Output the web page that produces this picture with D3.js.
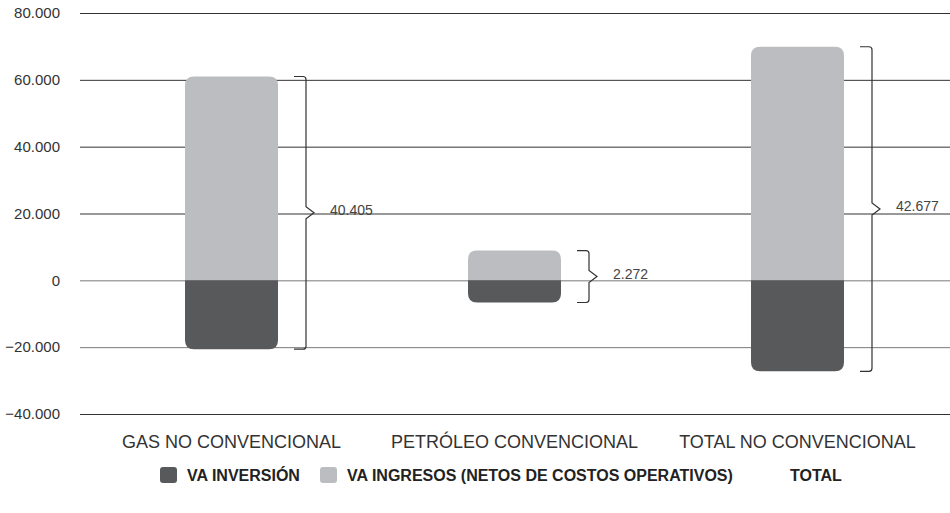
<!DOCTYPE html>
<html>
<head>
<meta charset="utf-8">
<script src="https://cdn.jsdelivr.net/npm/d3@7"></script>
<style>
  body { margin: 0; background: #fff; }
  svg { display: block; font-family: "Liberation Sans", Arial, sans-serif; }
  .tick text { font-size: 15px; fill: #333; }
  .catText { font-size: 18px; fill: #333; }
  .netText { font-size: 14px; fill: #444; }
  .legText { font-size: 16px; font-weight: bold; fill: #222; font-family: "Liberation Sans Narrow", "Liberation Sans", Arial, sans-serif; }
</style>
</head>
<body>
<div id="chart"></div>
<script>
let svgWidth = 950;
let svgHeight = 513;

// data
let categories = ["GAS NO CONVENCIONAL", "PETRÓLEO CONVENCIONAL", "TOTAL NO CONVENCIONAL"];
let inversion = [-20595, -6628, -27223];
let ingresos = [61000, 8900, 69900];
let totals = [40405, 2272, 42677];
let yTicks = [-40000, -20000, 0, 20000, 40000, 60000, 80000];
let legendLabels = ["VA INVERSIÓN", "VA INGRESOS (NETOS DE COSTOS OPERATIVOS)", "TOTAL"];

let colorDark = "#58595b";
let colorLight = "#bcbdc0";

let locale = d3.formatLocale({ decimal: ",", thousands: ".", grouping: [3], currency: ["$", ""] });
let fmt = locale.format(",d");

let svg = d3.select("#chart")
  .append("svg")
  .attr("width", svgWidth)
  .attr("height", svgHeight);

let gridLeft = 80;

let y = d3.scaleLinear()
  .domain([-40000, 80000])
  .range([414, 13]);

let x = d3.scalePoint()
  .domain(categories)
  .range([90, 939])
  .padding(0.5);

let barW = 93;
let r = 9;

// grid + tick labels
let yAxis = d3.axisLeft(y)
  .tickValues(yTicks)
  .tickSize(-(svgWidth - gridLeft))
  .tickPadding(20)
  .tickFormat(d => fmt(d));

let axisG = svg.append("g")
  .attr("transform", `translate(${gridLeft},0)`)
  .call(yAxis);
axisG.select(".domain").remove();
axisG.selectAll(".tick line")
  .attr("stroke", d => (d === 0 || d === -20000) ? "#7a7a7a" : "#333")
  .attr("stroke-width", 1);

// rounded shapes
function topRounded(x0, y0, w, h, rr) {
  return `M${x0},${y0 + h} L${x0},${y0 + rr} Q${x0},${y0} ${x0 + rr},${y0} L${x0 + w - rr},${y0} Q${x0 + w},${y0} ${x0 + w},${y0 + rr} L${x0 + w},${y0 + h} Z`;
}
function bottomRounded(x0, y0, w, h, rr) {
  return `M${x0},${y0} L${x0 + w},${y0} L${x0 + w},${y0 + h - rr} Q${x0 + w},${y0 + h} ${x0 + w - rr},${y0 + h} L${x0 + rr},${y0 + h} Q${x0},${y0 + h} ${x0},${y0 + h - rr} Z`;
}

let bars = svg.append("g");

bars.selectAll(".inc")
  .data(categories)
  .enter()
  .append("path")
  .attr("fill", colorLight)
  .attr("d", (d, i) => topRounded(x(d) - barW / 2, y(ingresos[i]), barW, y(0) - y(ingresos[i]), r));

bars.selectAll(".inv")
  .data(categories)
  .enter()
  .append("path")
  .attr("fill", colorDark)
  .attr("d", (d, i) => bottomRounded(x(d) - barW / 2, y(0), barW, y(inversion[i]) - y(0), r));

// braces
function brace(x0, yTop, yBot) {
  let tip = (yTop + yBot) / 2;
  let xl = x0 + 12;
  let c = 3;
  return `M${x0},${yTop} L${xl - c},${yTop} Q${xl},${yTop} ${xl},${yTop + c} L${xl},${tip - 6} L${xl + 8},${tip} L${xl},${tip + 6} L${xl},${yBot - c} Q${xl},${yBot} ${xl - c},${yBot} L${x0},${yBot}`;
}

let braceG = svg.append("g");
categories.forEach((d, i) => {
  let bx = x(d) + barW / 2 + 16;
  let yt = y(ingresos[i]);
  let yb = y(inversion[i]);
  braceG.append("path")
    .attr("d", brace(bx, yt, yb))
    .attr("fill", "none")
    .attr("stroke", "#333")
    .attr("stroke-width", 1.2);
  braceG.append("text")
    .attr("class", "netText")
    .attr("x", bx + 36)
    .attr("y", (yt + yb) / 2 + 2)
    .text(fmt(totals[i]));
});

// category labels
svg.selectAll(".catText")
  .data(categories)
  .enter()
  .append("text")
  .attr("class", "catText")
  .attr("x", d => x(d))
  .attr("y", 448)
  .attr("text-anchor", "middle")
  .text(d => d);

// legend
let legend = svg.append("g").attr("transform", "translate(0,475)");
let legX = [160, 320, 790];
let legColors = [colorDark, colorLight, null];
legendLabels.forEach((lab, i) => {
  let tx = legX[i];
  if (legColors[i]) {
    legend.append("rect")
      .attr("x", legX[i])
      .attr("y", -8)
      .attr("width", 17)
      .attr("height", 16)
      .attr("rx", 3)
      .attr("fill", legColors[i]);
    tx = legX[i] + 27;
  }
  legend.append("text")
    .attr("class", "legText")
    .attr("x", tx)
    .attr("y", 6)
    .text(lab);
});
</script>
</body>
</html>
